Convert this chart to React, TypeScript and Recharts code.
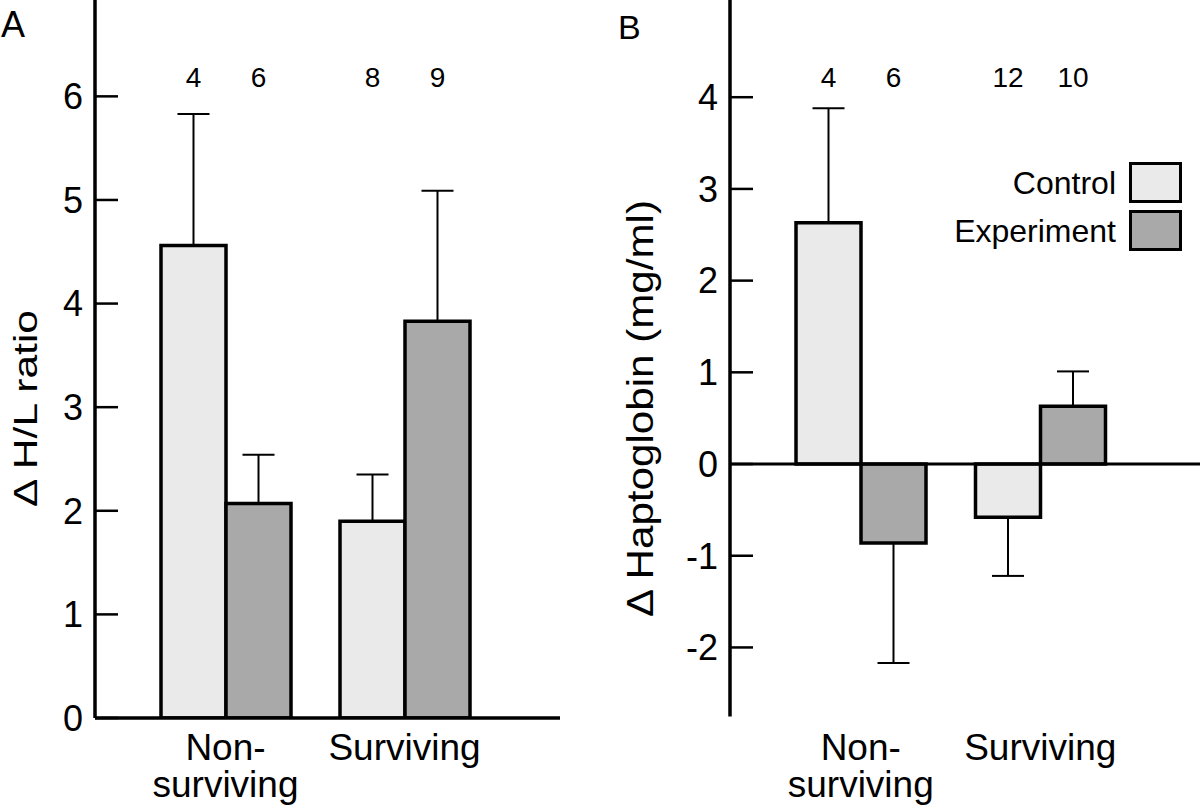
import { BarChart, Bar, XAxis, YAxis, ErrorBar, LabelList, Legend, ReferenceLine } from "recharts";

const FONT = '"Liberation Sans", Arial, Helvetica, sans-serif';

// categories and tick labels
const categories = ["Non-surviving", "Surviving"];
const categoryLines = [["Non-", "surviving"], ["Surviving"]];
const seriesNames = ["Control", "Experiment"];
const hlTicks = [0, 1, 2, 3, 4, 5, 6];
const hpTicks = [-2, -1, 0, 1, 2, 3, 4];

// panel A: delta H/L ratio
const hlControl = [4.56, 1.9];
const hlExperiment = [2.07, 3.83];
const hlControlErr = [1.27, 0.45];
const hlExperimentErr = [0.47, 1.26];
const hlControlN = [4, 8];
const hlExperimentN = [6, 9];

// panel B: delta haptoglobin (mg/ml)
const hpControl = [2.63, -0.58];
const hpExperiment = [-0.86, 0.63];
const hpControlErr = [1.25, 0.64];
const hpExperimentErr = [1.31, 0.38];
const hpControlN = [4, 12];
const hpExperimentN = [6, 10];

const CONTROL_FILL = "#eaeaea";
const EXPERIMENT_FILL = "#a9a9a9";

// error bars only point away from zero
const oneSided = (v: number, e: number) => (v >= 0 ? [0, e] : [e, 0]);

const buildRows = (
  c: number[], x: number[], ce: number[], xe: number[], cn: number[], xn: number[]
) =>
  categories.map((name, i) => ({
    name,
    control: c[i],
    experiment: x[i],
    controlErr: oneSided(c[i], ce[i]),
    experimentErr: oneSided(x[i], xe[i]),
    controlN: cn[i],
    experimentN: xn[i],
  }));

const hlData = buildRows(hlControl, hlExperiment, hlControlErr, hlExperimentErr, hlControlN, hlExperimentN);
const hpData = buildRows(hpControl, hpExperiment, hpControlErr, hpExperimentErr, hpControlN, hpExperimentN);

function YTick(props: any) {
  const { x, y, payload } = props;
  return (
    <g>
      <line x1={x} x2={x + 23} y1={y} y2={y} stroke="#000" strokeWidth={2.5} />
      <text x={x - 12} y={y} dy="0.355em" textAnchor="end" fontSize={36} fill="#000">
        {payload.value}
      </text>
    </g>
  );
}

function CatTick(props: any) {
  const { x, payload } = props;
  const lines = categoryLines[payload.index] || [String(payload.value)];
  return (
    <text textAnchor="middle" fontSize={37} fill="#000">
      {lines.map((l, i) => (
        <tspan key={i} x={x} y={760 + i * 37}>
          {l}
        </tspan>
      ))}
    </text>
  );
}

function YTitle(props: any) {
  const { cx, cy, len, size, text } = props;
  return (
    <text
      x={cx}
      y={cy}
      transform={`rotate(-90, ${cx}, ${cy})`}
      textAnchor="middle"
      fontSize={size}
      textLength={len}
      lengthAdjust="spacingAndGlyphs"
      fill="#000"
    >
      {text}
    </text>
  );
}

const countLabel = (props: any) => {
  const { x, width, value } = props;
  return (
    <text x={Number(x) + Number(width) / 2} y={87} textAnchor="middle" fontSize={28} fill="#000">
      {value}
    </text>
  );
};

function LegendBox(props: any) {
  const items = props.payload || [];
  return (
    <div style={{ display: "flex", flexDirection: "column", alignItems: "flex-end", gap: 7, fontFamily: FONT }}>
      {items.map((it: any) => (
        <div key={it.value} style={{ display: "flex", alignItems: "center", height: 41 }}>
          <span style={{ fontSize: 32, lineHeight: "32px", marginRight: 13, color: "#000" }}>{it.value}</span>
          <span
            style={{
              width: 53,
              height: 41,
              boxSizing: "border-box",
              border: "3.5px solid #000",
              background: it.color,
              display: "inline-block",
            }}
          />
        </div>
      ))}
    </div>
  );
}

function bars(showLegendNames: boolean) {
  return [
    <Bar
      key="c"
      dataKey="control"
      name={seriesNames[0]}
      fill={CONTROL_FILL}
      stroke="#000"
      strokeWidth={3.5}
      isAnimationActive={false}
      legendType={showLegendNames ? "rect" : "none"}
    >
      <ErrorBar dataKey="controlErr" width={16} stroke="#000" strokeWidth={2} isAnimationActive={false} />
      <LabelList dataKey="controlN" content={countLabel} />
    </Bar>,
    <Bar
      key="x"
      dataKey="experiment"
      name={seriesNames[1]}
      fill={EXPERIMENT_FILL}
      stroke="#000"
      strokeWidth={3.5}
      isAnimationActive={false}
      legendType={showLegendNames ? "rect" : "none"}
    >
      <ErrorBar dataKey="experimentErr" width={16} stroke="#000" strokeWidth={2} isAnimationActive={false} />
      <LabelList dataKey="experimentN" content={countLabel} />
    </Bar>,
  ];
}

export default function App() {
  return (
    <div style={{ position: "absolute", left: 0, top: 0, width: 1200, height: 811, background: "#fff", fontFamily: FONT }}>
      <div style={{ position: "absolute", left: 0, top: 0 }}>
        <BarChart width={560} height={811} data={hlData} margin={{ top: 0, right: 0, left: 0, bottom: 0 }} barGap={0} barSize={65}>
          <XAxis
            dataKey="name"
            height={93}
            padding={{ left: 41, right: 66 }}
            axisLine={{ stroke: "#000", strokeWidth: 3.5 }}
            tickLine={false}
            tickSize={0}
            tickMargin={0}
            tick={<CatTick />}
            interval={0}
          />
          <YAxis
            type="number"
            width={95}
            domain={[0, 6.93]}
            allowDataOverflow
            ticks={hlTicks}
            interval={0}
            tickSize={0}
            tickMargin={0}
            tickLine={false}
            axisLine={{ stroke: "#000", strokeWidth: 3.5 }}
            tick={<YTick />}
            label={<YTitle cx={37} cy={408.5} len={197} size={33} text="Δ H/L ratio" />}
          />
          {bars(false)}
        </BarChart>
      </div>
      <div style={{ position: "absolute", left: 580, top: 0 }}>
        <BarChart width={620} height={811} data={hpData} margin={{ top: 0, right: 0, left: 0, bottom: 0 }} barGap={0} barSize={65}>
          <XAxis
            dataKey="name"
            height={94.5}
            padding={{ left: 41, right: 70 }}
            axisLine={false}
            tickLine={false}
            tickSize={0}
            tickMargin={0}
            tick={<CatTick />}
            interval={0}
          />
          <YAxis
            type="number"
            width={150}
            domain={[-2.753, 5.06]}
            allowDataOverflow
            ticks={hpTicks}
            interval={0}
            tickSize={0}
            tickMargin={0}
            tickLine={false}
            axisLine={{ stroke: "#000", strokeWidth: 3.5 }}
            tick={<YTick />}
            label={<YTitle cx={73} cy={408.5} len={417} size={37} text="Δ Haptoglobin (mg/ml)" />}
          />
          <ReferenceLine y={0} stroke="#000" strokeWidth={3} />
          {bars(true)}
          <Legend
            layout="vertical"
            align="center"
            verticalAlign="middle"
            content={<LegendBox />}
            wrapperStyle={{ top: 162, left: 282, width: 320, height: 90 }}
          />
        </BarChart>
      </div>
      <div style={{ position: "absolute", left: 1, top: 7, fontSize: 36, lineHeight: "36px", color: "#000" }}>A</div>
      <div style={{ position: "absolute", left: 618, top: 10, fontSize: 34, lineHeight: "34px", color: "#000" }}>B</div>
    </div>
  );
}
